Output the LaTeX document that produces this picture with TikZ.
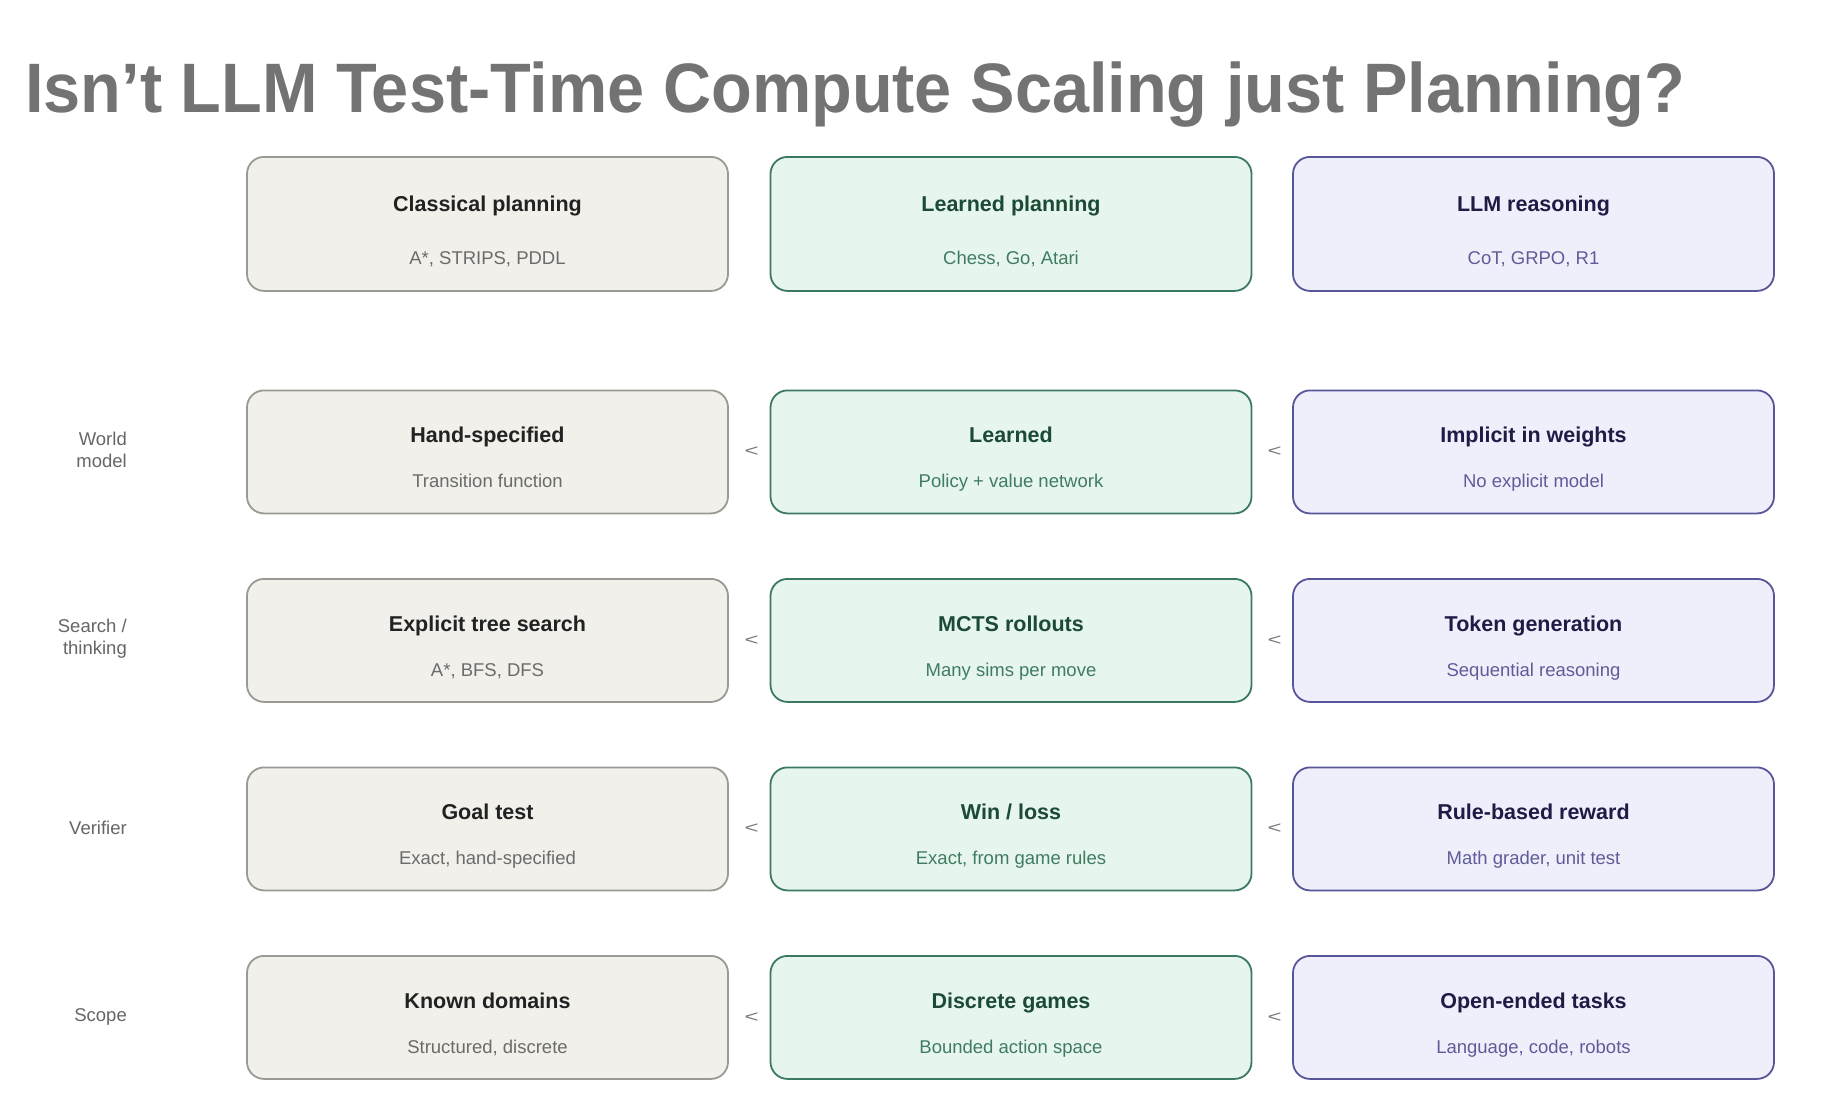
\documentclass[tikz,border=0pt]{standalone}
\usepackage{fontspec}
\usepackage{graphicx}
\setmainfont{Liberation Sans}
\usetikzlibrary{calc}
\definecolor{titlec}{HTML}{737373}
\definecolor{afill}{HTML}{F1F0EB}
\definecolor{adraw}{HTML}{9A9994}
\definecolor{ahead}{HTML}{222222}
\definecolor{asub}{HTML}{6B6B6B}
\definecolor{bfill}{HTML}{E6F5EE}
\definecolor{bdraw}{HTML}{3B7A60}
\definecolor{bhead}{HTML}{1B4A35}
\definecolor{bsub}{HTML}{3F7C60}
\definecolor{cfill}{HTML}{EFEFFB}
\definecolor{cdraw}{HTML}{58569A}
\definecolor{chead}{HTML}{1E1C45}
\definecolor{csub}{HTML}{5E5C98}
\definecolor{labc}{HTML}{666666}
\definecolor{ltc}{HTML}{7A7A7A}
\newcommand\cellbox[9]{%
  \node[cell, fill=#2fill, draw=#2draw, minimum height=#5pt] (#1) at (#3,#4) {};
  \node[headtxt, text=#2head] (#1t) at ([yshift=-#8pt]#1.north) {#6};
  \node[subtxt, text=#2sub] (#1s) at ([yshift=-#9pt]#1.north) {#7};
}
\begin{document}
\begin{tikzpicture}[x=1pt,y=-1pt,
  cell/.style={rectangle, rounded corners=17pt, line width=1.8pt, minimum width=481pt, inner sep=0pt, anchor=north},
  headtxt/.style={anchor=base, inner sep=0pt, font=\fontsize{21.5}{26}\selectfont\bfseries},
  subtxt/.style={anchor=base, inner sep=0pt, font=\fontsize{18.5}{22}\selectfont},
  rowlab/.style={anchor=east, align=right, inner sep=0pt, text=labc, font=\fontsize{18.5}{22}\selectfont},
  lt/.style={inner sep=0pt, text=ltc, font=\fontsize{18.5}{22}\selectfont, xshift=2.5pt}
]
\fill[white] (0,0) rectangle (1826,1096);
\useasboundingbox (0,0) rectangle (1826,1096);

\node[anchor=base west, inner sep=0pt, text=titlec, font=\fontsize{70}{84}\selectfont\bfseries] (title) at (25,112)
  {\scalebox{0.952}[1]{Isn’t LLM Test-Time Compute Scaling just Planning?}};

% header row
\cellbox{h1}{a}{487.5}{156}{134}{Classical planning}{A*, STRIPS, PDDL}{55}{108}
\cellbox{h2}{b}{1011}{156}{134}{Learned planning}{Chess, Go, Atari}{55}{108}
\cellbox{h3}{c}{1533.5}{156}{134}{LLM reasoning}{CoT, GRPO, R1}{55}{108}

% row 1
\cellbox{wa}{a}{487.5}{389.5}{123}{Hand-specified}{Transition function}{53}{98}
\cellbox{wb}{b}{1011}{389.5}{123}{Learned}{Policy + value network}{53}{98}
\cellbox{wc}{c}{1533.5}{389.5}{123}{Implicit in weights}{No explicit model}{53}{98}
% row 2
\cellbox{sa}{a}{487.5}{578}{123}{Explicit tree search}{A*, BFS, DFS}{53}{98}
\cellbox{sb}{b}{1011}{578}{123}{MCTS rollouts}{Many sims per move}{53}{98}
\cellbox{sc}{c}{1533.5}{578}{123}{Token generation}{Sequential reasoning}{53}{98}
% row 3
\cellbox{va}{a}{487.5}{766.5}{123}{Goal test}{Exact, hand-specified}{53}{98}
\cellbox{vb}{b}{1011}{766.5}{123}{Win / loss}{Exact, from game rules}{53}{98}
\cellbox{vc}{c}{1533.5}{766.5}{123}{Rule-based reward}{Math grader, unit test}{53}{98}
% row 4
\cellbox{ka}{a}{487.5}{955}{123}{Known domains}{Structured, discrete}{53}{98}
\cellbox{kb}{b}{1011}{955}{123}{Discrete games}{Bounded action space}{53}{98}
\cellbox{kc}{c}{1533.5}{955}{123}{Open-ended tasks}{Language, code, robots}{53}{98}

% row labels
\node[rowlab] (lw) at (127,450) {World\\model};
\node[rowlab] (ls) at (127,639) {Search /\\thinking};
\node[rowlab] (lv) at (127,828) {Verifier};
\node[rowlab] (lk) at (127,1016.5) {Scope};

% comparison marks
\foreach \r in {w,s,v,k}{
  \node[lt] (\r ab) at ($(\r a.east)!0.5!(\r b.west)$) {\scalebox{1.3}[0.9]{<}};
  \node[lt] (\r bc) at ($(\r b.east)!0.5!(\r c.west)$) {\scalebox{1.3}[0.9]{<}};
}
\end{tikzpicture}
\end{document}
